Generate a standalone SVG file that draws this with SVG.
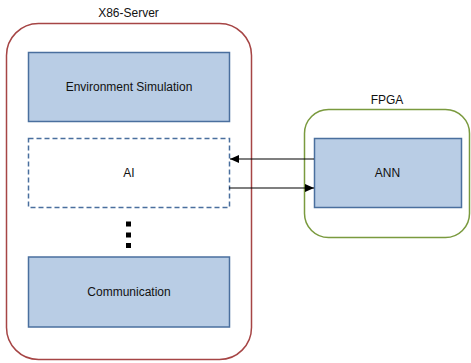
<svg xmlns="http://www.w3.org/2000/svg" width="471" height="363" viewBox="0 0 471 363">
  <defs>
    <style>
      .label { font-family: "Liberation Sans", Arial, sans-serif; font-size: 12px; fill: #111; text-anchor: middle; dominant-baseline: central; }
      .block { fill: #B9CDE5; stroke: #4A6F9E; stroke-width: 1.5; }
      .dashed { fill: #fff; stroke: #4A6F9E; stroke-width: 1.5; stroke-dasharray: 5 3; }
      .link { stroke: #000; stroke-width: 1.2; fill: none; marker-end: url(#arrow); }
    </style>
    <marker id="arrow" markerWidth="10" markerHeight="8" refX="9" refY="4" orient="auto" markerUnits="userSpaceOnUse">
      <path d="M0,0 L9,4 L0,8 Z" fill="#000"/>
    </marker>
  </defs>
  <rect width="471" height="363" fill="#fff"/>

  <g id="x86-server">
    <rect x="6.5" y="23.5" width="245" height="336" rx="32" ry="32" fill="#fff" stroke="#A64545" stroke-width="1.5"/>
    <text class="label" x="128.5" y="13">X86-Server</text>
  </g>

  <g id="fpga">
    <rect x="304.5" y="109.5" width="165" height="128" rx="24" ry="24" fill="#fff" stroke="#7A9A3E" stroke-width="1.5"/>
    <text class="label" x="387" y="100">FPGA</text>
  </g>

  <g id="environment-simulation">
    <rect class="block" x="28.5" y="52.5" width="201" height="69"/>
    <text class="label" x="129" y="87">Environment Simulation</text>
  </g>

  <g id="ai">
    <rect class="dashed" x="28.5" y="138.5" width="201" height="69"/>
    <text class="label" x="129" y="173">AI</text>
  </g>

  <g id="ellipsis">
    <rect x="126" y="221.5" width="5" height="5" fill="#000"/>
    <rect x="126" y="232.5" width="5" height="5" fill="#000"/>
    <rect x="126" y="243" width="5" height="5" fill="#000"/>
  </g>

  <g id="communication">
    <rect class="block" x="28.5" y="257" width="201" height="70"/>
    <text class="label" x="129" y="292">Communication</text>
  </g>

  <g id="ann">
    <rect class="block" x="314.5" y="138.5" width="147" height="69"/>
    <text class="label" x="387.5" y="173">ANN</text>
  </g>

  <g id="connectors">
    <line class="link" x1="314" y1="159" x2="230" y2="159"/>
    <line class="link" x1="229" y1="188" x2="314" y2="188"/>
  </g>
</svg>
